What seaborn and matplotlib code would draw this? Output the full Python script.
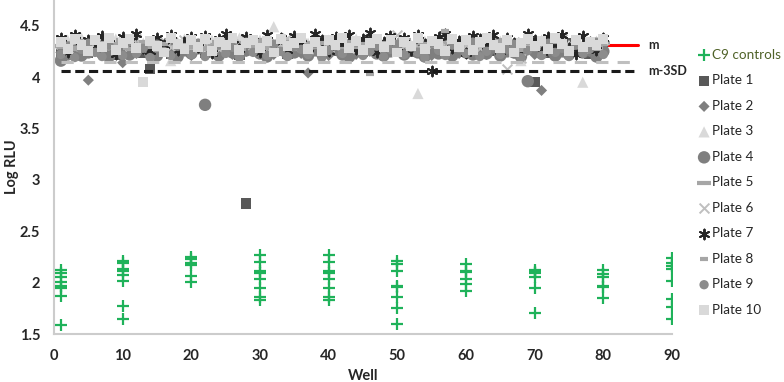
import numpy as np
import pandas as pd
import matplotlib
matplotlib.use("Agg")
import matplotlib.pyplot as plt
from matplotlib.ticker import FuncFormatter
import seaborn as sns

# --- data ---
wells = list(range(1, 81))

plate1 = [4.25, 4.29, 4.31, 4.26, 4.24, 4.28, 4.33, 4.27, 4.22, 4.30,
          4.26, 4.29, 4.24, 4.08, 4.31, 4.27, 4.23, 4.29, 4.32, 4.25,
          4.28, 4.24, 4.30, 4.26, 4.33, 4.27, 4.22, 2.77, 4.29, 4.25,
          4.31, 4.26, 4.28, 4.23, 4.30, 4.27, 4.25, 4.32, 4.24, 4.29,
          4.26, 4.30, 4.23, 4.28, 4.25, 4.33, 4.27, 4.24, 4.29, 4.26,
          4.31, 4.25, 4.28, 4.22, 4.30, 4.27, 4.33, 4.24, 4.29, 4.26,
          4.28, 4.23, 4.31, 4.26, 4.24, 4.29, 4.32, 4.25, 4.27, 3.95,
          4.30, 4.24, 4.28, 4.26, 4.33, 4.25, 4.29, 4.23, 4.31, 4.27]
plate2 = [4.24, 4.28, 4.22, 4.27, 3.97, 4.30, 4.25, 4.21, 4.29, 4.14,
          4.27, 4.23, 4.30, 4.26, 4.22, 4.28, 4.31, 4.24, 4.27, 4.21,
          4.29, 4.25, 4.23, 4.30, 4.26, 4.22, 4.28, 4.25, 4.31, 4.24,
          4.27, 4.22, 4.29, 4.25, 4.30, 4.23, 4.04, 4.28, 4.26, 4.21,
          4.30, 4.24, 4.27, 4.22, 4.29, 4.25, 4.31, 4.23, 4.28, 4.26,
          4.22, 4.29, 4.24, 4.27, 4.21, 4.30, 4.25, 4.28, 4.23, 4.26,
          4.29, 4.24, 4.22, 4.28, 4.25, 4.31, 4.23, 4.27, 4.26, 4.22,
          3.87, 4.28, 4.24, 4.29, 4.22, 4.26, 4.30, 4.25, 4.27, 4.23]
plate3 = [4.33, 4.36, 4.30, 4.38, 4.32, 4.29, 4.35, 4.31, 4.37, 4.34,
          4.30, 4.36, 4.33, 4.28, 4.35, 4.31, 4.16, 4.34, 4.37, 4.30,
          4.33, 4.29, 4.36, 4.32, 4.35, 4.30, 4.38, 4.33, 4.31, 4.36,
          4.29, 4.49, 4.34, 4.31, 4.37, 4.30, 4.33, 4.35, 4.28, 4.36,
          4.32, 4.34, 4.30, 4.37, 4.31, 4.35, 4.29, 4.33, 4.36, 4.30,
          4.34, 4.31, 3.84, 4.35, 4.30, 4.37, 4.32, 4.29, 4.34, 4.36,
          4.31, 4.33, 4.38, 4.30, 4.35, 4.32, 4.29, 4.16, 4.34, 4.31,
          4.36, 4.30, 4.33, 4.37, 4.31, 4.34, 3.95, 4.32, 4.35, 4.30]
plate4 = [4.16, 4.22, 4.26, 4.21, 4.24, 4.28, 4.23, 4.20, 4.27, 4.25,
          4.22, 4.26, 4.29, 4.23, 4.21, 4.27, 4.24, 4.20, 4.26, 4.23,
          4.28, 3.73, 4.25, 4.21, 4.27, 4.24, 4.22, 4.26, 4.29, 4.23,
          4.20, 4.25, 4.27, 4.22, 4.24, 4.28, 4.21, 4.26, 4.23, 4.25,
          4.27, 4.22, 4.20, 4.26, 4.24, 4.29, 4.23, 4.21, 4.25, 4.27,
          4.22, 4.26, 4.24, 4.20, 4.28, 4.23, 4.25, 4.21, 4.27, 4.24,
          4.22, 4.26, 4.23, 4.29, 4.21, 4.25, 4.24, 4.20, 3.96, 4.26,
          4.23, 4.27, 4.21, 4.25, 4.22, 4.28, 4.24, 4.26, 4.20, 4.25]
plate5 = [4.30, 4.33, 4.28, 4.35, 4.31, 4.27, 4.34, 4.29, 4.32, 4.36,
          4.28, 4.31, 4.34, 4.30, 4.27, 4.33, 4.36, 4.29, 4.32, 4.30,
          4.35, 4.28, 4.31, 4.34, 4.29, 4.32, 4.27, 4.33, 4.30, 4.36,
          4.29, 4.32, 4.28, 4.35, 4.31, 4.27, 4.33, 4.30, 4.34, 4.29,
          4.32, 4.28, 4.35, 4.30, 4.33, 4.27, 4.31, 4.34, 4.29, 4.32,
          4.36, 4.30, 4.28, 4.33, 4.31, 4.34, 4.27, 4.32, 4.29, 4.35,
          4.30, 4.33, 4.28, 4.31, 4.36, 4.29, 4.32, 4.27, 4.34, 4.30,
          4.33, 4.28, 4.35, 4.31, 4.29, 4.32, 4.30, 4.34, 4.28, 4.33]
plate6 = [4.32, 4.28, 4.35, 4.30, 4.33, 4.27, 4.36, 4.31, 4.29, 4.34,
          4.30, 4.37, 4.28, 4.33, 4.31, 4.35, 4.29, 4.32, 4.36, 4.28,
          4.31, 4.34, 4.30, 4.27, 4.35, 4.32, 4.29, 4.36, 4.31, 4.33,
          4.28, 4.35, 4.31, 4.38, 4.30, 4.33, 4.27, 4.34, 4.32, 4.29,
          4.36, 4.31, 4.28, 4.33, 4.35, 4.30, 4.32, 4.29, 4.34, 4.41,
          4.30, 4.33, 4.28, 4.35, 4.31, 4.36, 4.29, 4.32, 4.34, 4.30,
          4.33, 4.28, 4.36, 4.31, 4.29, 4.08, 4.34, 4.19, 4.32, 4.30,
          4.35, 4.29, 4.32, 4.37, 4.30, 4.33, 4.28, 4.34, 4.31, 4.36]
plate7 = [4.38, 4.24, 4.41, 4.30, 4.36, 4.27, 4.40, 4.33, 4.22, 4.39,
          4.35, 4.42, 4.28, 4.25, 4.38, 4.31, 4.41, 4.26, 4.34, 4.39,
          4.29, 4.40, 4.23, 4.37, 4.42, 4.32, 4.27, 4.39, 4.35, 4.24,
          4.41, 4.30, 4.38, 4.26, 4.40, 4.33, 4.28, 4.42, 4.36, 4.25,
          4.39, 4.31, 4.41, 4.27, 4.37, 4.43, 4.24, 4.34, 4.40, 4.29,
          4.38, 4.26, 4.41, 4.32, 4.06, 4.39, 4.42, 4.28, 4.35, 4.23,
          4.40, 4.37, 4.30, 4.41, 4.25, 4.38, 4.33, 4.27, 4.42, 4.36,
          4.24, 4.39, 4.31, 4.41, 4.28, 4.22, 4.40, 4.34, 4.26, 4.38]
plate8 = [4.29, 4.32, 4.27, 4.34, 4.30, 4.26, 4.33, 4.28, 4.31, 4.35,
          4.27, 4.30, 4.33, 4.29, 4.26, 4.32, 4.35, 4.28, 4.31, 4.29,
          4.34, 4.27, 4.30, 4.33, 4.28, 4.31, 4.26, 4.32, 4.29, 4.35,
          4.28, 4.31, 4.27, 4.34, 4.30, 4.26, 4.32, 4.29, 4.33, 4.28,
          4.31, 4.27, 4.34, 4.29, 4.32, 4.03, 4.30, 4.33, 4.28, 4.31,
          4.35, 4.29, 4.27, 4.32, 4.30, 4.33, 4.45, 4.31, 4.28, 4.34,
          4.29, 4.32, 4.27, 4.30, 4.35, 4.28, 4.31, 4.26, 4.33, 4.29,
          4.32, 4.27, 4.34, 4.30, 4.28, 4.31, 4.29, 4.33, 4.27, 4.32]
plate9 = [4.22, 4.30, 4.19, 4.27, 4.33, 4.24, 4.20, 4.31, 4.26, 4.21,
          4.34, 4.23, 4.28, 4.19, 4.32, 4.25, 4.21, 4.30, 4.27, 4.22,
          4.33, 4.20, 4.26, 4.31, 4.23, 4.29, 4.19, 4.34, 4.24, 4.28,
          4.21, 4.32, 4.25, 4.20, 4.30, 4.27, 4.22, 4.33, 4.19, 4.26,
          4.31, 4.23, 4.28, 4.34, 4.21, 4.25, 4.30, 4.20, 4.27, 4.32,
          4.22, 4.29, 4.24, 4.19, 4.33, 4.26, 4.21, 4.31, 4.28, 4.23,
          4.34, 4.20, 4.25, 4.30, 4.22, 4.27, 4.32, 4.19, 4.26, 4.29,
          4.21, 4.33, 4.24, 4.28, 4.20, 4.31, 4.23, 4.27, 4.34, 4.22]
plate10 = [4.34, 4.27, 4.37, 4.31, 4.25, 4.36, 4.29, 4.38, 4.26, 4.33,
           4.37, 4.28, 3.95, 4.35, 4.30, 4.24, 4.38, 4.32, 4.27, 4.36,
           4.29, 4.37, 4.25, 4.34, 4.31, 4.38, 4.26, 4.33, 4.36, 4.28,
           4.35, 4.24, 4.37, 4.30, 4.33, 4.38, 4.27, 4.34, 4.25, 4.36,
           4.31, 4.38, 4.28, 4.35, 4.26, 4.33, 4.37, 4.29, 4.36, 4.24,
           4.34, 4.30, 4.38, 4.27, 4.35, 4.32, 4.25, 4.37, 4.29, 4.36,
           4.26, 4.34, 4.38, 4.31, 4.28, 4.36, 4.24, 4.33, 4.37, 4.30,
           4.35, 4.27, 4.38, 4.32, 4.25, 4.36, 4.29, 4.34, 4.31, 4.37]
plates = [plate1, plate2, plate3, plate4, plate5, plate6, plate7, plate8, plate9, plate10]

# C9 positive controls: well -> values
ctrl_wells = [1, 10, 20, 30, 40, 50, 60, 70, 80, 90]
ctrl_values = [
    [2.12, 2.09, 2.05, 2.01, 1.97, 1.95, 1.87, 1.59],
    [2.21, 2.19, 2.13, 2.11, 2.07, 2.02, 1.77, 1.65],
    [2.25, 2.23, 2.19, 2.17, 2.06, 2.01],
    [2.27, 2.20, 2.11, 2.09, 2.04, 1.95, 1.86, 1.83],
    [2.27, 2.20, 2.11, 2.09, 2.04, 1.95, 1.86, 1.83],
    [2.21, 2.18, 2.11, 1.97, 1.96, 1.86, 1.75, 1.60],
    [2.18, 2.11, 2.10, 2.04, 1.99, 1.92],
    [2.12, 2.10, 2.09, 2.05, 1.95, 1.70],
    [2.12, 2.08, 2.05, 1.97, 1.96, 1.85],
    [2.24, 2.19, 2.16, 2.13, 2.02, 1.84, 1.76, 1.65],
]

mean_line = 4.31
sd2_line = 4.15
sd3_line = 4.06
line_wells = [1, 85]

# --- styling per plate ---
plate_styles = [
    dict(marker="s", color="#595959", s=55),
    dict(marker="D", color="#7f7f7f", s=32),
    dict(marker="^", color="#d9d9d9", s=65),
    dict(marker="o", color="#7f7f7f", s=80),
    dict(marker="_", color="#a6a6a6", s=90),
    dict(marker="x", color="#bfbfbf", s=50),
    dict(marker=(6, 2, 0), color="#262626", s=50),
    dict(marker="_", color="#a6a6a6", s=30),
    dict(marker="o", color="#8c8c8c", s=45),
    dict(marker="s", color="#d9d9d9", s=50),
]

sns.set_style("white")
plt.rcParams['font.family'] = ['Lato', 'DejaVu Sans']

fig = plt.figure(figsize=(7.84, 3.82), dpi=100)
ax = fig.add_axes([54 / 784, 48 / 382, 618 / 784, 334 / 382])

# controls
ctrl_df = pd.DataFrame({
    "well": [w for w, vals in zip(ctrl_wells, ctrl_values) for _ in vals],
    "value": [v for vals in ctrl_values for v in vals],
})
sns.scatterplot(data=ctrl_df, x="well", y="value", marker="+", color="#1fb25a",
                s=70, linewidth=1.6, ax=ax, label="C9 controls", zorder=3)

# mean line behind the plates
ax.plot(line_wells, [mean_line, mean_line], color="#ff0000", lw=2.2, zorder=1)

for i, (vals, st) in enumerate(zip(plates, plate_styles), 1):
    df = pd.DataFrame({"well": wells, "value": vals})
    lw = 3.0 if st["marker"] == "_" else (1.4 if st["marker"] in ("x", (6, 2, 0)) else 0)
    sns.scatterplot(data=df, x="well", y="value", marker=st["marker"], color=st["color"],
                    s=st["s"], linewidth=lw, edgecolor=st["color"] if lw else "none",
                    ax=ax, label=f"Plate {i}", zorder=2)

ax.plot(line_wells, [sd2_line, sd2_line], color="#bfbfbf", lw=2.2,
        dashes=(4, 3), zorder=4)
ax.plot(line_wells, [sd3_line, sd3_line], color="#1a1a1a", lw=2.2,
        dashes=(3, 1.5), zorder=4)
ax.text(86.5, mean_line, "m", fontsize=9, fontweight="bold", va="center")
ax.text(86.5, sd3_line, "m-3SD", fontsize=9, fontweight="bold", va="center")

ax.set_xlim(0, 90)
ax.set_ylim(1.5, 4.75)
ax.set_xticks(range(0, 91, 10))
ax.set_yticks([1.5, 2, 2.5, 3, 3.5, 4, 4.5])
ax.yaxis.set_major_formatter(FuncFormatter(lambda v, p: f"{v:g}"))
ax.tick_params(length=0, labelsize=10.5)
ax.tick_params(axis="x", pad=11)
ax.tick_params(axis="y", pad=10)
for lab in ax.get_xticklabels() + ax.get_yticklabels():
    lab.set_fontweight("bold")
ax.set_xlabel("Well", fontsize=10.5, fontweight="bold")
ax.set_ylabel("Log RLU", fontsize=10.5, fontweight="bold")
ax.xaxis.set_label_coords(0.5, -0.105)
ax.yaxis.set_label_coords(-0.056, 0.5)

sns.despine(ax=ax)
for side in ("left", "bottom"):
    ax.spines[side].set_color("#cccccc")
    ax.spines[side].set_linewidth(1.5)

handles, labels = ax.get_legend_handles_labels()
ax.legend_.remove()
leg = fig.legend(handles, labels, loc="upper left", bbox_to_anchor=(698 / 784, 1 - 49 / 382),
                 frameon=False, fontsize=9.7, handletextpad=0.12, labelspacing=1.0,
                 handlelength=0.9, borderaxespad=0, borderpad=0)
leg.get_texts()[0].set_color("#4f6228")

fig.savefig("out.png", dpi=100)
